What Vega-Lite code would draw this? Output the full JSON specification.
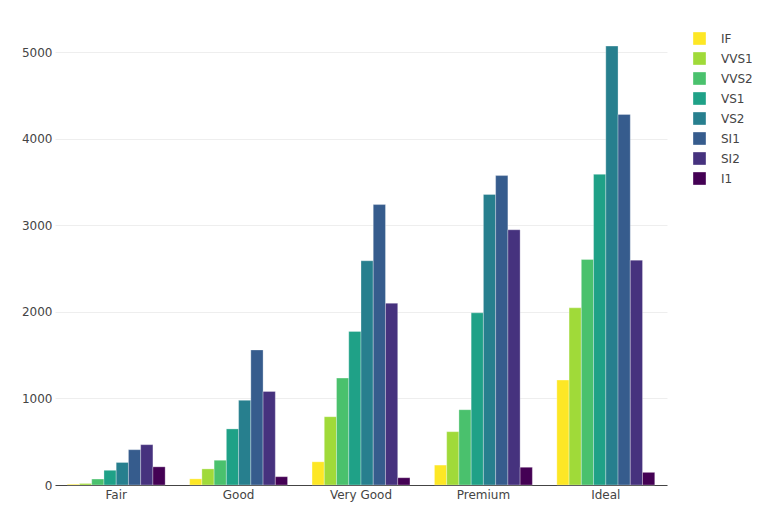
{
  "$schema": "https://vega.github.io/schema/vega-lite/v6.json",
  "width": 612,
  "height": 462,
  "autosize": {"type": "none"},
  "padding": {"left": 55, "top": 23, "right": 97, "bottom": 27},
  "background": "white",
  "data": {
    "values": [
      {"cut": "Fair", "clarity": "IF", "count": 9},
      {"cut": "Fair", "clarity": "VVS1", "count": 17},
      {"cut": "Fair", "clarity": "VVS2", "count": 69},
      {"cut": "Fair", "clarity": "VS1", "count": 170},
      {"cut": "Fair", "clarity": "VS2", "count": 261},
      {"cut": "Fair", "clarity": "SI1", "count": 408},
      {"cut": "Fair", "clarity": "SI2", "count": 466},
      {"cut": "Fair", "clarity": "I1", "count": 210},
      {"cut": "Good", "clarity": "IF", "count": 71},
      {"cut": "Good", "clarity": "VVS1", "count": 186},
      {"cut": "Good", "clarity": "VVS2", "count": 286},
      {"cut": "Good", "clarity": "VS1", "count": 648},
      {"cut": "Good", "clarity": "VS2", "count": 978},
      {"cut": "Good", "clarity": "SI1", "count": 1560},
      {"cut": "Good", "clarity": "SI2", "count": 1081},
      {"cut": "Good", "clarity": "I1", "count": 96},
      {"cut": "Very Good", "clarity": "IF", "count": 268},
      {"cut": "Very Good", "clarity": "VVS1", "count": 789},
      {"cut": "Very Good", "clarity": "VVS2", "count": 1235},
      {"cut": "Very Good", "clarity": "VS1", "count": 1775},
      {"cut": "Very Good", "clarity": "VS2", "count": 2591},
      {"cut": "Very Good", "clarity": "SI1", "count": 3240},
      {"cut": "Very Good", "clarity": "SI2", "count": 2100},
      {"cut": "Very Good", "clarity": "I1", "count": 84},
      {"cut": "Premium", "clarity": "IF", "count": 230},
      {"cut": "Premium", "clarity": "VVS1", "count": 616},
      {"cut": "Premium", "clarity": "VVS2", "count": 870},
      {"cut": "Premium", "clarity": "VS1", "count": 1989},
      {"cut": "Premium", "clarity": "VS2", "count": 3357},
      {"cut": "Premium", "clarity": "SI1", "count": 3575},
      {"cut": "Premium", "clarity": "SI2", "count": 2949},
      {"cut": "Premium", "clarity": "I1", "count": 205},
      {"cut": "Ideal", "clarity": "IF", "count": 1212},
      {"cut": "Ideal", "clarity": "VVS1", "count": 2047},
      {"cut": "Ideal", "clarity": "VVS2", "count": 2606},
      {"cut": "Ideal", "clarity": "VS1", "count": 3589},
      {"cut": "Ideal", "clarity": "VS2", "count": 5071},
      {"cut": "Ideal", "clarity": "SI1", "count": 4282},
      {"cut": "Ideal", "clarity": "SI2", "count": 2598},
      {"cut": "Ideal", "clarity": "I1", "count": 146}
    ]
  },
  "mark": {"type": "bar", "stroke": "#ffffff", "strokeWidth": 0.5, "strokeOpacity": 0.6},
  "encoding": {
    "x": {
      "field": "cut",
      "type": "nominal",
      "sort": ["Fair", "Good", "Very Good", "Premium", "Ideal"],
      "scale": {"paddingInner": 0.2, "paddingOuter": 0.1},
      "axis": {"title": null, "labelAngle": 0, "ticks": false, "domainColor": "#444", "domainWidth": 1, "labelPadding": 4}
    },
    "xOffset": {
      "field": "clarity",
      "type": "nominal",
      "sort": ["IF", "VVS1", "VVS2", "VS1", "VS2", "SI1", "SI2", "I1"],
      "scale": {"paddingInner": 0, "paddingOuter": 0}
    },
    "y": {
      "field": "count",
      "type": "quantitative",
      "scale": {"domain": [0, 5338], "nice": false},
      "axis": {"title": null, "values": [0, 1000, 2000, 3000, 4000, 5000], "format": "d", "domain": false, "ticks": false, "gridColor": "#eeeeee", "labelPadding": 3}
    },
    "color": {
      "field": "clarity",
      "type": "nominal",
      "sort": ["IF", "VVS1", "VVS2", "VS1", "VS2", "SI1", "SI2", "I1"],
      "scale": {
        "domain": ["IF", "VVS1", "VVS2", "VS1", "VS2", "SI1", "SI2", "I1"],
        "range": ["#fde725", "#a0da39", "#4ac16d", "#1fa187", "#277f8e", "#365c8d", "#46327e", "#440154"]
      },
      "legend": {
        "title": null,
        "orient": "none",
        "legendX": 638,
        "legendY": 9,
        "symbolType": "square",
        "symbolSize": 160,
        "symbolStrokeWidth": 0,
        "rowPadding": 7,
        "labelOffset": 15,
        "labelFontSize": 12,
        "labelColor": "#444"
      }
    }
  },
  "config": {
    "font": "DejaVu Sans",
    "view": {"stroke": null},
    "axis": {"labelFont": "DejaVu Sans", "labelFontSize": 12, "labelColor": "#444"},
    "axisX": {"grid": false},
    "legend": {"labelFont": "DejaVu Sans"}
  }
}
